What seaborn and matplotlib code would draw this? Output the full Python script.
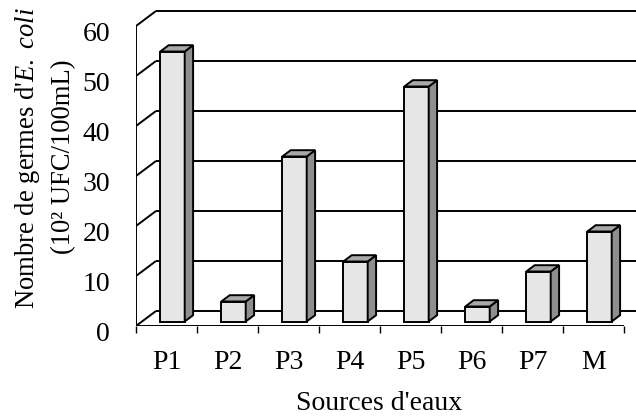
import numpy as np
import pandas as pd
import matplotlib
matplotlib.use("Agg")
import matplotlib.pyplot as plt
import seaborn as sns
from matplotlib.patches import Polygon
from matplotlib.transforms import Affine2D, ScaledTranslation

# Data
sources = ["P1", "P2", "P3", "P4", "P5", "P6", "P7", "M"]
counts = [54, 4, 33, 12, 47, 3, 10, 18]
y_ticks = [0, 10, 20, 30, 40, 50, 60]

sns.set_theme(style="white")
plt.rcParams["font.family"] = ["Liberation Serif", "DejaVu Serif"]
plt.rcParams["mathtext.fontset"] = "custom"
plt.rcParams["mathtext.rm"] = "Liberation Serif"
plt.rcParams["mathtext.it"] = "Liberation Serif:italic"

W, H, DPI = 636, 416, 100
FS = 20
fig = plt.figure(figsize=(W / DPI, H / DPI), dpi=DPI)

# plot area: front floor edge at y=326 px, 61 px per category, 5 px per unit
PX_CAT, PX_UNIT = 61.0, 5.0
ax = fig.add_axes([136 / W, (H - 326) / H, 500 / W, 316 / H])

# oblique depth of the 3-D box, in data units
DX, DY = 20 / PX_CAT, 15 / PX_UNIT
FRONT, BAR_D = 0.3, 0.42          # bar front position and bar thickness (fraction of depth)
fdx, fdy = FRONT * DX, FRONT * DY
bdx, bdy = BAR_D * DX, BAR_D * DY

FRONT_C, SIDE_C, TOP_C = "#E6E6E6", "#8E8E8E", "#A8A8A8"
LW = 1.4

df = pd.DataFrame({"source": sources, "count": counts})
sns.barplot(data=df, x="source", y="count", order=sources, width=0.4,
            color=FRONT_C, saturation=1, edgecolor="black", linewidth=LW,
            ax=ax, zorder=3)

x_lo, x_hi = -0.5, -0.5 + 500 / PX_CAT
ax.set_xlim(x_lo, x_hi)
ax.set_ylim(0, 316 / PX_UNIT)

# walls and floor
wall_kw = dict(color="black", lw=LW, zorder=1, solid_capstyle="butt")
top = y_ticks[-1]
ax.plot([x_lo, x_lo], [0, top], **wall_kw)
ax.plot([x_lo, len(sources) - 0.5], [0, 0], **wall_kw)
for v in y_ticks:
    ax.plot([x_lo, x_lo + DX], [v, v + DY], **wall_kw)
    ax.plot([x_lo + DX, x_hi + 1], [v + DY, v + DY], **wall_kw)

# extrude each bar: shift the front face, add side and top faces
shift = Affine2D().translate(fdx, fdy) + ax.transData
for p in list(ax.patches):
    p.set_transform(shift)
    p.set_joinstyle("miter")
    x0, y0 = p.get_x(), p.get_y()
    x1, h = x0 + p.get_width(), y0 + p.get_height()
    side = [(x1 + fdx, y0 + fdy), (x1 + fdx + bdx, y0 + fdy + bdy),
            (x1 + fdx + bdx, h + fdy + bdy), (x1 + fdx, h + fdy)]
    topf = [(x0 + fdx, h + fdy), (x1 + fdx, h + fdy),
            (x1 + fdx + bdx, h + fdy + bdy), (x0 + fdx + bdx, h + fdy + bdy)]
    ax.add_patch(Polygon(side, closed=True, facecolor=SIDE_C, edgecolor="black",
                         lw=LW, zorder=3, joinstyle="miter"))
    ax.add_patch(Polygon(topf, closed=True, facecolor=TOP_C, edgecolor="black",
                         lw=LW, zorder=3, joinstyle="miter"))

for s in ax.spines.values():
    s.set_visible(False)

# category boundary ticks below the floor edge
ax.set_xticks(np.arange(len(sources) + 1) - 0.5, minor=True)
ax.set_xticks(np.arange(len(sources)))
ax.set_xticklabels([])
ax.set_yticks([])
ax.set_xlabel("")
ax.set_ylabel("")
ax.tick_params(axis="x", which="minor", bottom=True, length=5, width=1.0,
               direction="out", color="black")
ax.tick_params(axis="x", which="major", bottom=False, length=0)

def px_offset(dx, dy):
    return ax.transData + ScaledTranslation(dx / DPI, dy / DPI, fig.dpi_scale_trans)

for i, s in enumerate(sources):
    ax.text(i, 0, s, transform=px_offset(0, -43), ha="center", va="baseline",
            fontsize=FS, color="black", clip_on=False)
for v in y_ticks:
    ax.text(x_lo, v, str(v), transform=px_offset(-26, -15), ha="right",
            va="baseline", fontsize=FS, color="black", clip_on=False)

fig.text(379 / W, 6 / H, "Sources d'eaux", ha="center", va="baseline",
         fontsize=FS, color="black")
fig.text(34 / W, 1 - 158 / H, r"Nombre de germes d'$\mathit{E.\ coli}$",
         rotation=90, rotation_mode="anchor", ha="center", va="baseline",
         fontsize=19.2, color="black")
fig.text(70 / W, 1 - 157 / H, "(10² UFC/100mL)",
         rotation=90, rotation_mode="anchor", ha="center", va="baseline",
         fontsize=19.2, color="black")

fig.savefig("out.png", dpi=DPI, facecolor="white")
